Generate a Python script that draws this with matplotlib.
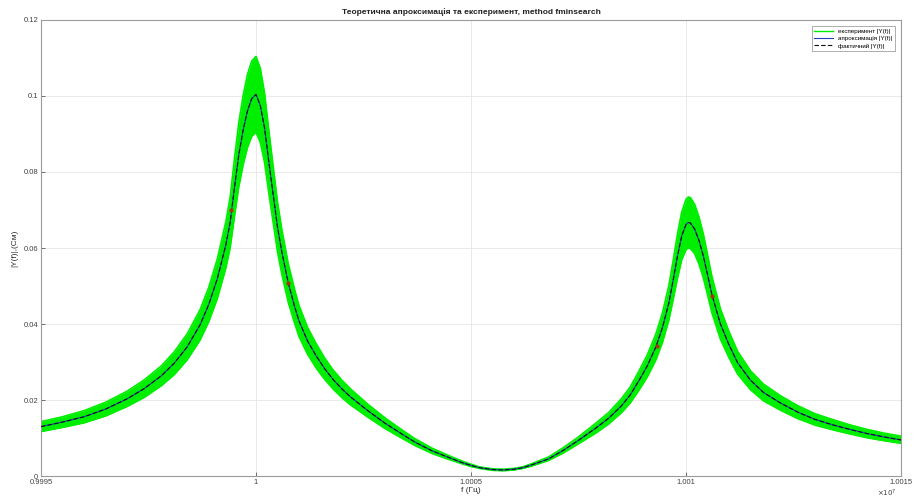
import matplotlib
matplotlib.use("Agg")
import matplotlib.pyplot as plt
from matplotlib.lines import Line2D

plt.rcParams['font.family'] = ['Liberation Sans', 'DejaVu Sans']

# Frequency, in units of 1e7 Hz
freq = [0.99950, 0.99955, 0.99960, 0.99965, 0.99970, 0.99974, 0.99978, 0.99981,
        0.99984, 0.99987, 0.99989, 0.99991, 0.99993, 0.99994, 0.99995, 0.99996,
        0.99997, 0.99998, 0.99999, 1.00000, 1.00001, 1.00002, 1.00003, 1.00004,
        1.00005, 1.00006, 1.000075, 1.00009, 1.00010, 1.00012, 1.00014, 1.00016,
        1.00018, 1.00020, 1.00022, 1.00026, 1.00030, 1.00034, 1.00037, 1.00041,
        1.00045, 1.00048, 1.00050, 1.00052, 1.00055, 1.000575, 1.00060, 1.00062,
        1.00064, 1.00068, 1.000715, 1.00075, 1.00079, 1.00082, 1.00085, 1.00087,
        1.00089, 1.00091, 1.00093, 1.000945, 1.00096, 1.00097, 1.00098, 1.00099,
        1.00100, 1.001005, 1.00101, 1.00102, 1.00103, 1.00104, 1.00105, 1.00106,
        1.00108, 1.00110, 1.00112, 1.00115, 1.00118, 1.00122, 1.00126, 1.00130,
        1.00134, 1.00138, 1.00142, 1.00146, 1.00150]

# Actual |Y(f)|
actual_y = [0.0130, 0.0142, 0.0156, 0.0176, 0.0203, 0.0230, 0.0264, 0.0297,
            0.0340, 0.0398, 0.0451, 0.0519, 0.0609, 0.0668, 0.0760, 0.0845,
            0.0910, 0.0960, 0.0993, 0.1004, 0.0975, 0.0915, 0.0825, 0.0740,
            0.0655, 0.0590, 0.0508, 0.0445, 0.0408, 0.0355, 0.0316, 0.0282,
            0.0253, 0.0229, 0.0208, 0.0172, 0.0139, 0.0110, 0.0089, 0.0066,
            0.0048, 0.0035, 0.0028, 0.0022, 0.0017, 0.0016, 0.0018, 0.0022,
            0.0029, 0.0045, 0.0068, 0.0094, 0.0126, 0.0152, 0.0185, 0.0213,
            0.0250, 0.0290, 0.0340, 0.0390, 0.0455, 0.0515, 0.0578, 0.0632,
            0.0662, 0.0667, 0.0666, 0.0650, 0.0620, 0.0580, 0.0530, 0.0478,
            0.0400, 0.0345, 0.0298, 0.0252, 0.0220, 0.0192, 0.0168, 0.0149,
            0.0135, 0.0123, 0.0112, 0.0103, 0.0095]

# Fitted approximation |Y(f)|
approx_y = list(actual_y)

# Spread of the noisy measurement: upper and lower envelopes
exp_upper = [0.0143, 0.0156, 0.0172, 0.0194, 0.0223, 0.0253, 0.0290, 0.0327,
             0.0374, 0.0438, 0.0496, 0.0571, 0.0670, 0.0735, 0.0836, 0.0930,
             0.1001, 0.1056, 0.1092, 0.1104, 0.1073, 0.1007, 0.0908, 0.0814,
             0.0721, 0.0649, 0.0559, 0.0490, 0.0449, 0.0391, 0.0348, 0.0310,
             0.0278, 0.0252, 0.0229, 0.0189, 0.0153, 0.0121, 0.0098, 0.0073,
             0.0053, 0.0039, 0.0031, 0.0024, 0.0019, 0.0018, 0.0020, 0.0024,
             0.0032, 0.0050, 0.0075, 0.0103, 0.0139, 0.0167, 0.0204, 0.0234,
             0.0275, 0.0319, 0.0374, 0.0429, 0.0501, 0.0567, 0.0636, 0.0695,
             0.0728, 0.0734, 0.0733, 0.0715, 0.0682, 0.0638, 0.0583, 0.0526,
             0.0440, 0.0380, 0.0328, 0.0277, 0.0242, 0.0211, 0.0185, 0.0164,
             0.0149, 0.0135, 0.0123, 0.0113, 0.0105]
exp_lower = [0.0117, 0.0128, 0.0140, 0.0158, 0.0183, 0.0207, 0.0238, 0.0267,
             0.0306, 0.0358, 0.0406, 0.0467, 0.0548, 0.0601, 0.0684, 0.0761,
             0.0819, 0.0864, 0.0894, 0.0904, 0.0878, 0.0824, 0.0743, 0.0666,
             0.0590, 0.0531, 0.0457, 0.0401, 0.0367, 0.0320, 0.0284, 0.0254,
             0.0228, 0.0206, 0.0187, 0.0155, 0.0125, 0.0099, 0.0080, 0.0059,
             0.0043, 0.0032, 0.0025, 0.0020, 0.0015, 0.0014, 0.0016, 0.0020,
             0.0026, 0.0041, 0.0061, 0.0085, 0.0113, 0.0137, 0.0167, 0.0192,
             0.0225, 0.0261, 0.0306, 0.0351, 0.0410, 0.0464, 0.0520, 0.0569,
             0.0596, 0.0600, 0.0599, 0.0585, 0.0558, 0.0522, 0.0477, 0.0430,
             0.0360, 0.0311, 0.0268, 0.0227, 0.0198, 0.0173, 0.0151, 0.0134,
             0.0122, 0.0111, 0.0101, 0.0093, 0.0086]

# Initial-guess points
mark_f = [0.999943, 1.000075, 1.000932, 1.00106]
mark_y = [0.0700, 0.0508, 0.0341, 0.0475]

xticks = [0.9995, 1.0, 1.0005, 1.001, 1.0015]
xtick_labels = ["0.9995", "1", "1.0005", "1.001", "1.0015"]
yticks = [0, 0.02, 0.04, 0.06, 0.08, 0.1, 0.12]
ytick_labels = ["0", "0.02", "0.04", "0.06", "0.08", "0.1", "0.12"]

fig = plt.figure(figsize=(9.13, 4.99), dpi=100)
ax = fig.add_axes([0.0449, 0.046, 0.942, 0.914])

green = "#00ee00"
ax.fill_between(freq, exp_lower, exp_upper, color=green, lw=0, zorder=2)
ax.plot(freq, exp_upper, color=green, lw=1.2, zorder=2)
ax.plot(freq, exp_lower, color=green, lw=1.2, zorder=2)
ax.plot(freq, approx_y, color="#2040c0", lw=0.8, zorder=3)
ax.plot(freq, actual_y, color="#101010", lw=0.8, ls=(0, (4, 2)), zorder=4)
ax.plot(mark_f, mark_y, ls="none", marker="o", ms=2, color="#b03010",
        zorder=5)

ax.set_xlim(0.9995, 1.0015)
ax.set_ylim(0, 0.12)
ax.set_xticks(xticks)
ax.set_xticklabels(xtick_labels)
ax.set_yticks(yticks)
ax.set_yticklabels(ytick_labels)
ax.tick_params(direction="in", length=3, width=0.5, labelsize=5.5,
               colors="#404040", pad=2)
ax.grid(True, color="#e6e6e6", lw=0.6)
ax.set_axisbelow(True)
for s in ax.spines.values():
    s.set_color("#9a9a9a")
    s.set_linewidth(0.8)

ax.set_title("Теоретична апроксимація та експеримент, method fminsearch",
             fontsize=6, fontweight="bold", pad=4, color="#202020")
ax.set_xlabel("f (Гц)", fontsize=6, labelpad=1, color="#303030")
ax.set_ylabel("|Y(f)|,(См)", fontsize=6, labelpad=4, color="#303030")
fig.text(0.982, 0.0, r"$\times10^{7}$", fontsize=5,
         ha="right", va="bottom", color="#404040")

handles = [Line2D([], [], color=green, lw=1),
           Line2D([], [], color="#2040c0", lw=0.8),
           Line2D([], [], color="#101010", lw=0.8, ls=(0, (4, 2)))]
labels = ["експеримент |Y(f)|", "апроксимація |Y(f)|", "фактичний |Y(f)|"]
leg = ax.legend(handles, labels, loc="upper right", fontsize=4.5,
                fancybox=False, framealpha=1, edgecolor="#a0a0a0",
                handlelength=3, borderaxespad=1.0, labelspacing=0.3,
                borderpad=0.4)
leg.get_frame().set_linewidth(0.6)

fig.savefig("out.png", dpi=100)
